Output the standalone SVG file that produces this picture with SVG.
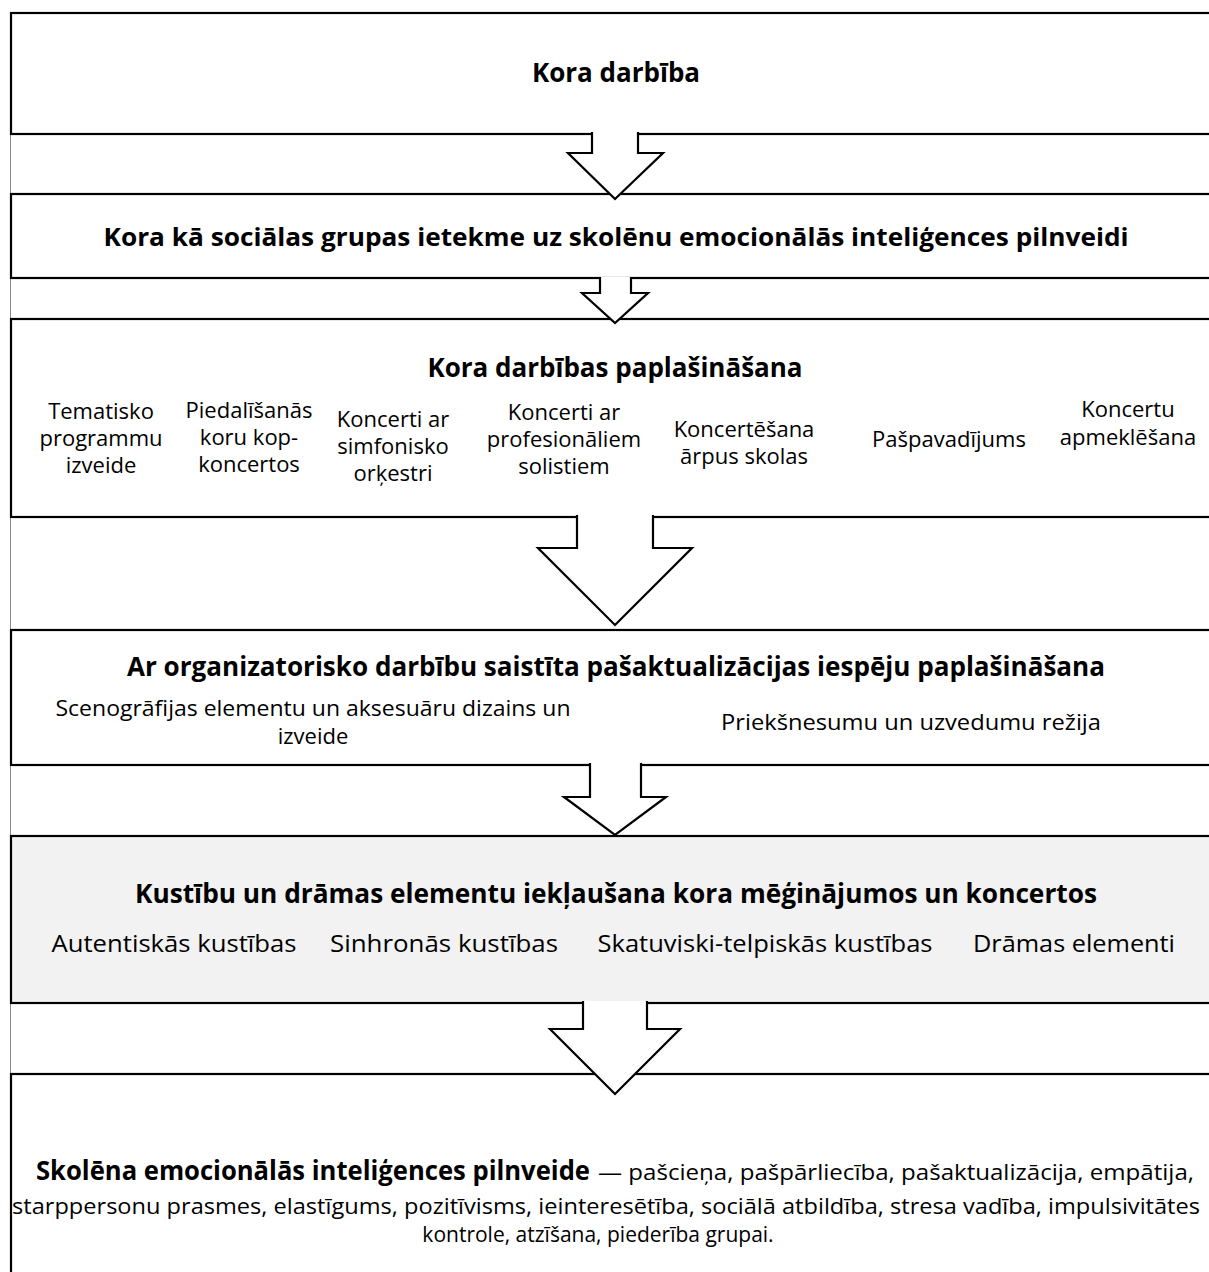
<svg xmlns="http://www.w3.org/2000/svg" width="1209" height="1272" viewBox="0 0 1209 1272">
<style>
.box{fill:#fff;stroke:#000;stroke-width:2.2}
.gray{fill:#f2f2f2}
.arr{fill:#fff;stroke:#000;stroke-width:2.2;stroke-linejoin:miter}
.t{font-family:"Open Sans","Noto Sans",sans-serif;fill:#000;text-anchor:middle}
.b{font-weight:bold}
.s26{font-size:26px}
.s25{font-size:25px}
.s24{font-size:24px}
.s22{font-size:22px}
.s21{font-size:21px}
</style>
<rect width="1209" height="1272" fill="#fff"/>
<line x1="10.5" y1="13" x2="10.5" y2="1272" stroke="#8a8a8a" stroke-width="1"/>
<g id="node1">
<rect class="box" x="11" y="13" width="1210" height="121"/>
<text class="t b s26" x="616" y="82">Kora darbība</text>
</g>
<g id="node2">
<rect class="box" x="11" y="194" width="1210" height="84"/>
<text class="t b s25" x="616" y="246" textLength="1025" lengthAdjust="spacingAndGlyphs">Kora kā sociālas grupas ietekme uz skolēnu emocionālās inteliģences pilnveidi</text>
</g>
<g id="node3">
<rect class="box" x="11" y="319" width="1210" height="198"/>
<text class="t b s26" x="615" y="377">Kora darbības paplašināšana</text>
<g class="t s22">
<text x="101" y="419"><tspan x="101">Tematisko</tspan><tspan x="101" dy="27">programmu</tspan><tspan x="101" dy="27">izveide</tspan></text>
<text x="249" y="418"><tspan x="249">Piedalīšanās</tspan><tspan x="249" dy="27">koru kop-</tspan><tspan x="249" dy="27">koncertos</tspan></text>
<text x="393" y="427"><tspan x="393">Koncerti ar</tspan><tspan x="393" dy="27">simfonisko</tspan><tspan x="393" dy="27">orķestri</tspan></text>
<text x="564" y="420"><tspan x="564">Koncerti ar</tspan><tspan x="564" dy="27">profesionāliem</tspan><tspan x="564" dy="27">solistiem</tspan></text>
<text x="744" y="437"><tspan x="744">Koncertēšana</tspan><tspan x="744" dy="27">ārpus skolas</tspan></text>
<text x="949" y="447">Pašpavadījums</text>
<text x="1128" y="417"><tspan x="1128">Koncertu</tspan><tspan x="1128" dy="28">apmeklēšana</tspan></text>
</g>
</g>
<g id="node4">
<rect class="box" x="11" y="630" width="1210" height="135"/>
<text class="t b s26" x="616" y="676" textLength="978" lengthAdjust="spacingAndGlyphs">Ar organizatorisko darbību saistīta pašaktualizācijas iespēju paplašināšana</text>
<text class="t s22" x="313" y="716"><tspan x="313" textLength="515" lengthAdjust="spacingAndGlyphs">Scenogrāfijas elementu un aksesuāru dizains un</tspan><tspan x="313" dy="28">izveide</tspan></text>
<text class="t s22" x="911" y="730" textLength="380" lengthAdjust="spacingAndGlyphs">Priekšnesumu un uzvedumu režija</text>
</g>
<g id="node5">
<rect class="box gray" x="11" y="836" width="1210" height="167"/>
<text class="t b s26" x="616" y="903" textLength="962" lengthAdjust="spacingAndGlyphs">Kustību un drāmas elementu iekļaušana kora mēģinājumos un koncertos</text>
<g class="t s24">
<text x="174" y="952" textLength="245" lengthAdjust="spacingAndGlyphs">Autentiskās kustības</text>
<text x="444" y="952" textLength="228" lengthAdjust="spacingAndGlyphs">Sinhronās kustības</text>
<text x="765" y="952" textLength="335" lengthAdjust="spacingAndGlyphs">Skatuviski-telpiskās kustības</text>
<text x="1074" y="952" textLength="202" lengthAdjust="spacingAndGlyphs">Drāmas elementi</text>
</g>
</g>
<g id="node6">
<rect class="box" x="11" y="1074" width="1210" height="220"/>
<text class="t b s26" x="313" y="1180" textLength="554" lengthAdjust="spacingAndGlyphs">Skolēna emocionālās inteliģences pilnveide</text>
<text class="t s21" x="896" y="1180" textLength="596" lengthAdjust="spacingAndGlyphs">— pašcieņa, pašpārliecība, pašaktualizācija, empātija,</text>
<text class="t s21" x="606" y="1214" textLength="1188" lengthAdjust="spacingAndGlyphs">starppersonu prasmes, elastīgums, pozitīvisms, ieinteresētība, sociālā atbildība, stresa vadība, impulsivitātes</text>
<text class="t s21" x="598" y="1242">kontrole, atzīšana, piederība grupai.</text>
</g>
<g id="connectors">
<path class="arr" d="M592,132 L592,153 L568,153 L615,199 L663,153 L638,153 L638,132"/>
<path class="arr" d="M600,277 L600,293 L582,293 L615,323 L648,293 L631,293 L631,277"/>
<path class="arr" d="M577,515 L577,548 L538,548 L615,625 L692,548 L653,548 L653,515"/>
<path class="arr" d="M590,763 L590,797 L564,797 L615,835 L666,797 L641,797 L641,763"/>
<path class="arr gray" d="M583,1001 L583,1029 L550,1029 L615,1094 L680,1029 L647,1029 L647,1001"/>
</g>
</svg>
